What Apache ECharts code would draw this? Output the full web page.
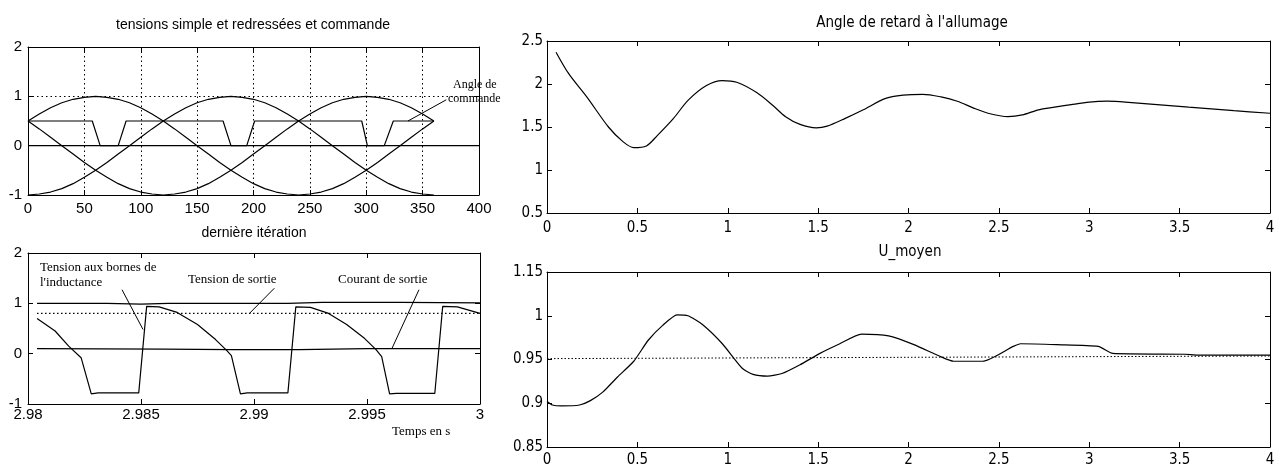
<!DOCTYPE html>
<html>
<head>
<meta charset="utf-8">
<script src="https://cdn.jsdelivr.net/npm/echarts@6/dist/echarts.min.js"></script>
<style>
  html, body { margin: 0; padding: 0; background: #fff; }
  #chart { width: 1276px; height: 466px; }
</style>
</head>
<body>
<div id="chart"></div>
<script>
  // ---- panel 1 : tensions simple et redressées et commande ----
  const phaseDeg = [0, 10, 20, 30, 40, 50, 60, 70, 80, 90, 100, 110, 120, 130, 140, 150, 160, 170, 180,
    190, 200, 210, 220, 230, 240, 250, 260, 270, 280, 290, 300, 310, 320, 330, 340, 350, 360]
  const tensionA = [0.5, 0.64, 0.77, 0.87, 0.94, 0.98, 1, 0.98, 0.94, 0.87, 0.77, 0.64, 0.5, 0.34, 0.17, 0,
    -0.17, -0.34, -0.5, -0.64, -0.77, -0.87, -0.94, -0.98, -1, -0.98, -0.94, -0.87, -0.77, -0.64, -0.5,
    -0.34, -0.17, 0, 0.17, 0.34, 0.5]
  const tensionB = [-1, -0.98, -0.94, -0.87, -0.77, -0.64, -0.5, -0.34, -0.17, 0, 0.17, 0.34, 0.5, 0.64,
    0.77, 0.87, 0.94, 0.98, 1, 0.98, 0.94, 0.87, 0.77, 0.64, 0.5, 0.34, 0.17, 0, -0.17, -0.34, -0.5,
    -0.64, -0.77, -0.87, -0.94, -0.98, -1]
  const tensionC = [0.5, 0.34, 0.17, 0, -0.17, -0.34, -0.5, -0.64, -0.77, -0.87, -0.94, -0.98, -1, -0.98,
    -0.94, -0.87, -0.77, -0.64, -0.5, -0.34, -0.17, 0, 0.17, 0.34, 0.5, 0.64, 0.77, 0.87, 0.94, 0.98, 1,
    0.98, 0.94, 0.87, 0.77, 0.64, 0.5]
  const commandeX = [0, 57, 64, 80, 87, 173, 180, 194, 201, 296, 301, 316, 324, 360]
  const commandeY = [0.5, 0.5, 0, 0, 0.5, 0.5, 0, 0, 0.5, 0.5, 0, 0, 0.5, 0.5]
  const zeroX = [0, 400]
  const zeroY = [0, 0]
  const angleCmdPtrX = [337, 371]
  const angleCmdPtrY = [0.5, 0.93]

  // ---- panel 2 : dernière itération ----
  const iterTicks = ['2.98', '2.985', '2.99', '2.995', '3']
  const inductT = [2.9804, 2.9812, 2.9818, 2.98235, 2.9828, 2.9831, 2.9849, 2.98525, 2.9858, 2.9866,
    2.9875, 2.9883, 2.9888, 2.989, 2.9894, 2.9897, 2.9915, 2.99185, 2.9925, 2.9933, 2.9941, 2.9949,
    2.9954, 2.99565, 2.996, 2.9963, 2.998, 2.99835, 2.999, 3.0]
  const inductV = [0.7, 0.45, 0.15, -0.08, -0.8, -0.78, -0.78, 0.94, 0.93, 0.82, 0.58, 0.28, 0.06, -0.04,
    -0.8, -0.78, -0.78, 0.93, 0.92, 0.8, 0.58, 0.3, 0.08, -0.06, -0.8, -0.79, -0.79, 0.94, 0.93, 0.8]
  const hautT = [2.9804, 2.9835, 2.985, 2.9862, 2.9915, 2.993, 2.9965, 3.0]
  const hautV = [1.0, 1.0, 0.985, 1.0, 1.0, 1.02, 1.02, 1.01]
  const sortieT = [2.9804, 3.0]
  const sortieV = [0.8, 0.8]
  const courantT = [2.9804, 2.986, 2.989, 2.992, 2.995, 3.0]
  const courantV = [0.1, 0.09, 0.08, 0.08, 0.1, 0.1]
  const ptrInductT = [2.98416, 2.98509]
  const ptrInductV = [1.27, 0.48]
  const ptrSortieT = [2.9909, 2.9898]
  const ptrSortieV = [1.3, 0.8]
  const ptrCourantT = [2.9973, 2.9961]
  const ptrCourantV = [1.27, 0.1]

  // ---- panel 3 : Angle de retard à l'allumage ----
  const angleT = [0.05, 0.12, 0.22, 0.34, 0.42, 0.48, 0.55, 0.61, 0.7, 0.78, 0.88, 0.97, 1.05, 1.16, 1.25,
    1.32, 1.4, 1.49, 1.55, 1.65, 1.75, 1.87, 1.97, 2.08, 2.18, 2.27, 2.36, 2.44, 2.55, 2.63, 2.72, 2.9,
    3.0, 3.1, 3.2, 3.55, 3.8, 4.0]
  const angleV = [2.37, 2.12, 1.85, 1.5, 1.33, 1.26, 1.28, 1.4, 1.6, 1.81, 1.98, 2.04, 2.02, 1.9, 1.75,
    1.62, 1.53, 1.49, 1.51, 1.6, 1.7, 1.83, 1.87, 1.88, 1.85, 1.8, 1.72, 1.66, 1.62, 1.64, 1.7, 1.76,
    1.79, 1.8, 1.79, 1.73, 1.69, 1.66]

  // ---- panel 4 : U_moyen ----
  const umoyTicks = ['0.85', '0.9', '0.95', '1', '1.15']
  const umT = [0, 0.03, 0.08, 0.18, 0.24, 0.31, 0.39, 0.48, 0.56, 0.64, 0.72, 0.78, 0.86, 0.97, 1.08,
    1.14, 1.22, 1.3, 1.4, 1.51, 1.62, 1.74, 1.89, 2.03, 2.17, 2.25, 2.41, 2.58, 2.62, 2.82, 3.05, 3.13,
    3.53, 3.6, 4.0]
  const umV = [0.902, 0.898, 0.897, 0.898, 0.903, 0.913, 0.93, 0.948, 0.972, 0.989, 1.001, 1.0, 0.99,
    0.968, 0.94, 0.933, 0.931, 0.934, 0.944, 0.957, 0.968, 0.979, 0.977, 0.967, 0.954, 0.948, 0.948,
    0.965, 0.968, 0.967, 0.965, 0.957, 0.956, 0.955, 0.955]
  const umRefT = [0, 4]
  const umRefV = [0.951, 0.954]

  //------------------- helpers -------------------//
  const black = '#000'
  const sans = '"Liberation Sans", Arial, Helvetica, sans-serif'
  const narrow = '"Liberation Sans Narrow", "Arial Narrow", "DejaVu Sans Condensed", "Liberation Sans", sans-serif'
  const serif = '"Liberation Serif", "Times New Roman", serif'

  const pair = (xs, ys) => xs.map((x, i) => [x, ys[i]])

  const axisPair = (dim, g, min, max, interval, label, grid) => {
    const base = {
      gridIndex: g, type: 'value', min, max, interval,
      axisLine: {show: true, onZero: false, lineStyle: {color: black, width: 1}},
      axisTick: {show: true, inside: true, length: 5, lineStyle: {color: black, width: 1}},
      splitLine: {show: !!grid, lineStyle: {color: black, width: 1, type: [1.5, 3]}},
    }
    const first = dim === 'x' ? 'bottom' : 'left'
    const second = dim === 'x' ? 'top' : 'right'
    return [
      {...base, position: first,
        axisLabel: {color: black, showMinLabel: true, showMaxLabel: true, hideOverlap: false, ...label}},
      {...base, position: second, axisLabel: {show: false}, splitLine: {show: false}},
    ]
  }

  const line = (g, data, extra = {}) => ({
    type: 'line', xAxisIndex: 2 * g, yAxisIndex: 2 * g, data,
    showSymbol: false, symbol: 'none', silent: true, animation: false,
    lineStyle: {color: black, width: 1.2}, ...extra,
  })

  const leftX = {fontFamily: sans, fontSize: 15, margin: 6}
  const leftY = {fontFamily: sans, fontSize: 15, margin: 6}
  const rightLbl = {fontFamily: narrow, fontSize: 15, margin: 5}

  const xAxis = [
    ...axisPair('x', 0, 0, 400, 50, leftX, true),
    ...axisPair('x', 1, 2.98, 3.0, 0.005, {...leftX, margin: 3, formatter: (v, i) => iterTicks[i]}),
    ...axisPair('x', 2, 0, 4, 0.5, {...rightLbl, margin: 8}),
    ...axisPair('x', 3, 0, 4, 0.5, {...rightLbl, margin: 6}),
  ]
  const yAxis = [
    ...axisPair('y', 0, -1, 2, 1, leftY, true),
    ...axisPair('y', 1, -1, 2, 1, leftY),
    ...axisPair('y', 2, 0.5, 2.5, 0.5, {...rightLbl, margin: 4}),
    ...axisPair('y', 3, 0.85, 1.05, 0.05, {...rightLbl, margin: 4, formatter: (v, i) => umoyTicks[i]}),
  ]

  const grid = [
    {left: 28, top: 47, width: 451, height: 148},
    {left: 28, top: 253, width: 452, height: 151},
    {left: 547, top: 41, width: 723, height: 172},
    {left: 547, top: 272, width: 723, height: 175},
  ].map(g => ({...g, show: false, containLabel: false, outerBoundsMode: 'none'}))

  const titleStyle = (font, size) => ({color: black, fontFamily: font, fontSize: size, fontWeight: 'normal'})
  const title = [
    {text: 'tensions simple et redressées et commande', left: 253, top: 18, textAlign: 'center', textStyle: titleStyle(sans, 14)},
    {text: 'dernière itération', left: 254, top: 226, textAlign: 'center', textStyle: titleStyle(sans, 14)},
    {text: "Angle de retard à l'allumage", left: 912, top: 16, textAlign: 'center', textStyle: titleStyle(narrow, 15)},
    {text: 'U_moyen', left: 910, top: 245, textAlign: 'center', textStyle: titleStyle(narrow, 15)},
  ].map(t => ({...t, padding: 0}))

  const note = (text, left, top, size = 13) => ({
    type: 'text', left, top, silent: true,
    style: {text, fill: black, font: `${size}px ${serif}`},
  })

  const series = [
    line(0, pair(phaseDeg, tensionA)),
    line(0, pair(phaseDeg, tensionB)),
    line(0, pair(phaseDeg, tensionC)),
    line(0, pair(commandeX, commandeY)),
    line(0, pair(zeroX, zeroY)),
    line(0, pair(angleCmdPtrX, angleCmdPtrY), {lineStyle: {color: black, width: 1}}),

    line(1, pair(hautT, hautV)),
    line(1, pair(sortieT, sortieV), {lineStyle: {color: black, width: 1.2, type: [1.5, 2.5]}}),
    line(1, pair(courantT, courantV)),
    line(1, pair(inductT, inductV)),
    line(1, pair(ptrInductT, ptrInductV), {lineStyle: {color: black, width: 1}}),
    line(1, pair(ptrSortieT, ptrSortieV), {lineStyle: {color: black, width: 1}}),
    line(1, pair(ptrCourantT, ptrCourantV), {lineStyle: {color: black, width: 1}}),

    line(2, pair(angleT, angleV), {smooth: 0.3}),

    line(3, pair(umRefT, umRefV), {lineStyle: {color: black, width: 1, type: [1.5, 2]}}),
    line(3, pair(umT, umV), {smooth: 0.2}),
  ]

  const chart = echarts.init(document.getElementById('chart'), null, {renderer: 'canvas'})
  chart.setOption({
    backgroundColor: '#fff',
    animation: false,
    title,
    grid,
    xAxis,
    yAxis,
    series,
    graphic: [
      note('Angle de', 453, 79, 12),
      note('commande', 448, 93, 12),
      note('Tension aux bornes de', 40, 261),
      note("l'inductance", 40, 276),
      note('Tension de sortie', 188, 273),
      note('Courant de sortie', 338, 273),
      note('Temps en s', 392, 425),
    ],
  })
</script>
</body>
</html>
